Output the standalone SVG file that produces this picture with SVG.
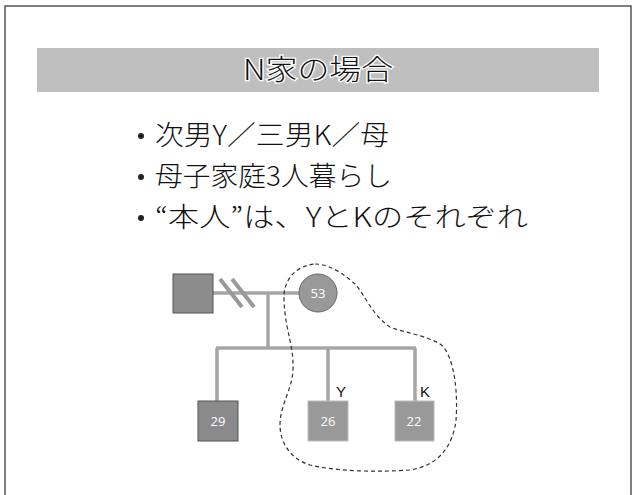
<svg xmlns="http://www.w3.org/2000/svg" width="635" height="495" viewBox="0 0 635 495">
<style>
.bl{font-family:"Noto Sans CJK JP","Noto Sans",sans-serif;font-size:27px;font-weight:300;fill:#111}
.ttl{font-family:"Noto Sans CJK JP","Noto Sans",sans-serif;font-size:28px;font-weight:300;fill:#111;stroke:#fff;stroke-width:2.5px;paint-order:stroke}
.num{font-family:"Open Sans","Liberation Sans",sans-serif;font-size:13px;fill:#fff;text-anchor:middle}
.lab{font-family:"Liberation Sans",sans-serif;font-size:15px;fill:#111}
.ln{stroke:#a6a6a6;stroke-width:3.5;fill:none}
.sl{stroke:#999;stroke-width:4;fill:none}
</style>
<rect x="0" y="0" width="635" height="495" fill="#fff"/>
<path d="M5,500 V6 H631 V500" fill="none" stroke="#555" stroke-width="1.5"/>
<g id="title">
<rect x="37" y="48" width="562" height="44" fill="#bfbfbf"/>
<text class="ttl" x="318" y="80" text-anchor="middle" textLength="150" lengthAdjust="spacingAndGlyphs">N家の場合</text>
</g>
<g id="bullets">
<circle cx="141" cy="136" r="3" fill="#222"/>
<text class="bl" x="155" y="145" textLength="234" lengthAdjust="spacingAndGlyphs">次男Y／三男K／母</text>
<circle cx="141" cy="177" r="3" fill="#222"/>
<text class="bl" x="155" y="186" textLength="237" lengthAdjust="spacingAndGlyphs">母子家庭3人暮らし</text>
<circle cx="141" cy="218" r="3" fill="#222"/>
<text class="bl" x="155" y="227" textLength="373" lengthAdjust="spacingAndGlyphs">“本人”は、YとKのそれぞれ</text>
</g>
<g id="connectors">
<line class="ln" x1="213" y1="293" x2="300" y2="293"/>
<line class="sl" x1="220" y1="279" x2="242" y2="307"/>
<line class="sl" x1="232" y1="279" x2="254" y2="307"/>
<line class="ln" x1="268" y1="293" x2="268" y2="348"/>
<line class="ln" x1="216" y1="348" x2="416" y2="348"/>
<line class="ln" x1="217" y1="348" x2="217" y2="401"/>
<line class="ln" x1="328" y1="348" x2="328" y2="401"/>
<line class="ln" x1="415" y1="348" x2="415" y2="401"/>
</g>
<g id="father"><rect x="173" y="274" width="40" height="39" fill="#8c8c8c" stroke="#555" stroke-width="1"/></g>
<g id="mother"><circle cx="318" cy="293" r="19" fill="#999" stroke="#666" stroke-width="1"/><text class="num" x="318" y="298">53</text></g>
<g id="son29"><rect x="198" y="401" width="40" height="40" fill="#8a8a8a" stroke="#555" stroke-width="1"/><text class="num" x="218" y="426">29</text></g>
<g id="sonY"><rect x="308" y="401" width="40" height="40" fill="#999" stroke="#bbb" stroke-width="1"/><text class="num" x="328" y="426">26</text><text class="lab" x="336" y="397">Y</text></g>
<g id="sonK"><rect x="395" y="401" width="39" height="40" fill="#999" stroke="#bbb" stroke-width="1"/><text class="num" x="414" y="426">22</text><text class="lab" x="420" y="397">K</text></g>
<g id="household">
<path d="M315,264 C330,264 345,275 355,284 C365,295 372,315 390,327 C405,333 425,335 440,344 C455,355 458,395 456,420 C453,445 440,465 410,470 C380,472 340,472 310,465 C288,458 280,440 280,425 C280,405 292,390 293,370 C294,345 285,330 284,300 C283,280 295,266 315,264 Z" fill="none" stroke="#333" stroke-width="1.2" stroke-dasharray="4,3"/>
</g>
</svg>
